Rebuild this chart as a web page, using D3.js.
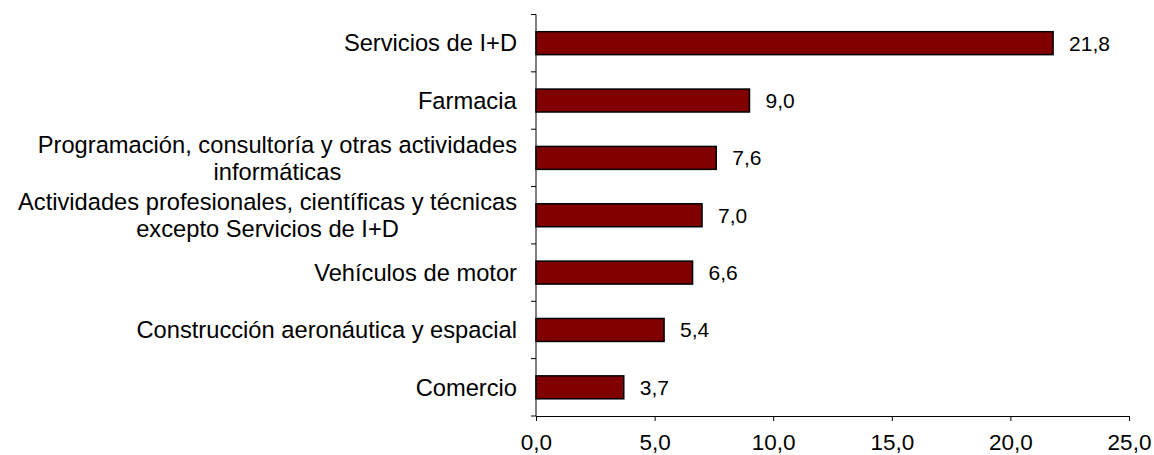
<!DOCTYPE html>
<html>
<head>
<meta charset="utf-8">
<script src="https://cdn.jsdelivr.net/npm/d3@7"></script>
<style>
  body { margin: 0; background: #fff; }
  text { font-family: Arial, "Liberation Sans", sans-serif; fill: #000; }
</style>
</head>
<body>
<svg id="chart" width="1154" height="455"></svg>
<script>
// Data
var categories = [
    ["Servicios de I+D"],
    ["Farmacia"],
    ["Programación, consultoría y otras actividades", "informáticas"],
    ["Actividades profesionales, científicas y técnicas", "excepto Servicios de I+D"],
    ["Vehículos de motor"],
    ["Construcción aeronáutica y espacial"],
    ["Comercio"]
];
var values = [21.8, 9.0, 7.6, 7.0, 6.6, 5.4, 3.7];
var xTicks = [0, 5, 10, 15, 20, 25];

var svg = d3.select("#chart");
var margin = {top: 14.5, left: 536, right: 25, bottom: 39};
var width = 1129 - margin.left;
var height = 416 - margin.top;

var g = svg.append("g")
    .attr("transform", "translate(" + margin.left + "," + margin.top + ")");

var fmt = function(v) { return v.toFixed(1).replace(".", ","); };

var x = d3.scaleLinear().domain([0, 25]).range([0, width]);
var y = d3.scaleBand()
    .domain(d3.range(categories.length))
    .range([0, height])
    .paddingInner(0.6)
    .paddingOuter(0.3);

// x axis
var xAxis = g.append("g")
    .attr("transform", "translate(0," + height + ")")
    .call(d3.axisBottom(x).tickValues(xTicks).tickFormat(fmt).tickSize(5).tickSizeOuter(0));
xAxis.select(".domain").attr("stroke", "#000");
xAxis.selectAll(".tick line").attr("stroke", "#000");
xAxis.selectAll(".tick text")
    .attr("y", 18)
    .style("font-size", "22.5px")
    .style("font-family", "Arial, 'Liberation Sans', sans-serif");

// y axis: line with separator ticks
var band = height / categories.length;
g.append("line")
    .attr("x1", 0).attr("x2", 0)
    .attr("y1", 0).attr("y2", height)
    .attr("stroke", "#000");
g.selectAll(".sep")
    .data(d3.range(categories.length + 1))
    .enter().append("line")
    .attr("class", "sep")
    .attr("x1", -5).attr("x2", 0)
    .attr("y1", function(i) { return i * band; })
    .attr("y2", function(i) { return i * band; })
    .attr("stroke", "#000");

// bars
g.selectAll("rect.bar")
    .data(values)
    .enter().append("rect")
    .attr("class", "bar")
    .attr("x", x(0))
    .attr("y", function(d, i) { return y(i); })
    .attr("width", function(d) { return x(d) - x(0); })
    .attr("height", y.bandwidth())
    .attr("fill", "#800000")
    .attr("stroke", "#000")
    .attr("stroke-width", 1.5);

// value labels
g.selectAll("text.val")
    .data(values)
    .enter().append("text")
    .attr("class", "val")
    .attr("x", function(d) { return x(d) + 16; })
    .attr("y", function(d, i) { return y(i) + y.bandwidth() / 2 + 7.5; })
    .style("font-size", "21px")
    .text(fmt);

// category labels (multi-line centred, block right-aligned)
var lineH = 27;
categories.forEach(function(lines, i) {
    var cy = y(i) + y.bandwidth() / 2;
    var t = g.append("text")
        .attr("text-anchor", "middle")
        .style("font-size", "23.7px");
    var y0 = cy + 8.3 - (lines.length - 1) * lineH / 2;
    lines.forEach(function(l, k) {
        t.append("tspan").attr("x", 0).attr("y", y0 + k * lineH).text(l);
    });
    var w = t.node().getBBox().width;
    t.selectAll("tspan").attr("x", -19 - w / 2);
});
</script>
</body>
</html>
